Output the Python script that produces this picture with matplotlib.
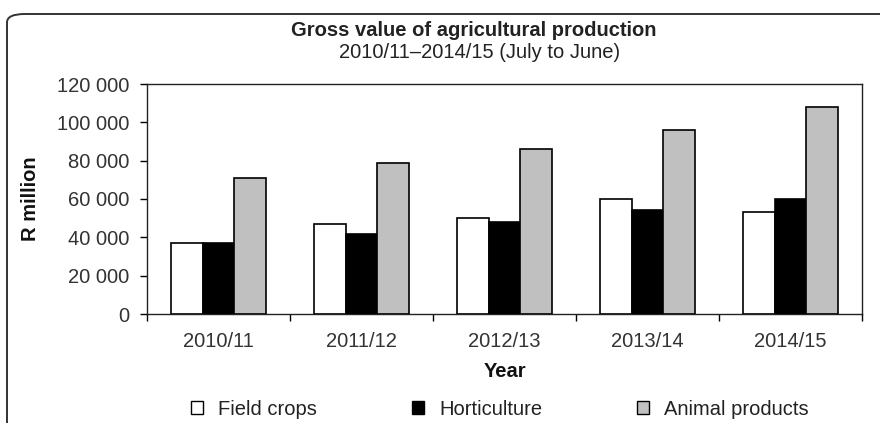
import matplotlib.pyplot as plt
import numpy as np
from matplotlib.patches import FancyBboxPatch, Patch
from matplotlib.ticker import FuncFormatter

plt.rcParams['font.family'] = ['Liberation Sans', 'DejaVu Sans']

years = ["2010/11", "2011/12", "2012/13", "2013/14", "2014/15"]
field_crops = [37000, 47000, 50000, 60000, 53000]
horticulture = [37200, 42000, 48000, 54300, 60000]
animal_products = [71000, 78800, 86000, 96000, 108000]

series = [("Field crops", field_crops, "white"),
          ("Horticulture", horticulture, "black"),
          ("Animal products", animal_products, "#c0c0c0")]

W, H = 880, 423
fig = plt.figure(figsize=(W / 100, H / 100), dpi=100)

# rounded frame round the whole chart (cut off at right and bottom)
frame = FancyBboxPatch((7 / W, -40 / H), 900 / W, (H - 14 + 40) / H,
                       boxstyle="round,pad=0,rounding_size=0.02",
                       transform=fig.transFigure, fill=False,
                       edgecolor="#333333", linewidth=1.4, clip_on=False)
fig.patches.append(frame)

ax = fig.add_axes([147 / W, 1 - 314 / H, (862 - 147) / W, (314 - 84) / H])

x = np.arange(len(years))
bw = 0.22
for i, (name, vals, col) in enumerate(series):
    ax.bar(x + (i - 1) * bw, vals, bw, color=col, edgecolor="black",
           linewidth=1.2, label=name, zorder=3)

ax.set_xlim(-0.5, len(years) - 0.5)
ax.set_ylim(0, 120000)
ax.set_yticks(np.arange(0, 120001, 20000))
ax.yaxis.set_major_formatter(FuncFormatter(lambda v, p: f"{int(v):,}".replace(",", " ")))

# category labels centred, ticks on boundaries
ax.set_xticks(np.arange(-0.5, len(years), 1))
ax.set_xticklabels([])
ax.set_xticks(x, minor=True)
ax.set_xticklabels(years, minor=True)
ax.tick_params(axis="x", which="minor", length=0, pad=13, labelsize=14.5, labelcolor="#333333")
ax.tick_params(axis="x", which="major", length=5, width=1, direction="out")
ax.tick_params(axis="y", length=5, width=1, direction="out", pad=8,
               labelsize=14.5, labelcolor="#333333")

for s in ax.spines.values():
    s.set_linewidth(1)
    s.set_color("#222222")

ax.set_xlabel("Year", fontsize=14.5, fontweight="bold", labelpad=8, color="#111111")
ax.set_ylabel("R million", fontsize=14.5, fontweight="bold", labelpad=12, color="#111111")

fig.text(474 / W, 1 - 31 / H, "Gross value of agricultural production",
         ha="center", va="center", fontsize=14.5, fontweight="bold", color="#222222")
fig.text(480 / W, 1 - 53 / H, "2010/11\u20132014/15 (July to June)",
         ha="center", va="center", fontsize=14.5, color="#222222")

handles = [Patch(facecolor=col, edgecolor="black", linewidth=1) for _, _, col in series]
fig.legend(handles, [n for n, _, _ in series], loc="center",
           bbox_to_anchor=(500 / W, 1 - 409 / H), ncol=3, frameon=False,
           fontsize=14.5, handlelength=0.6, handleheight=0.6,
           handletextpad=0.75, columnspacing=4.7, labelcolor="#222222")

fig.savefig("out.png", dpi=100)
